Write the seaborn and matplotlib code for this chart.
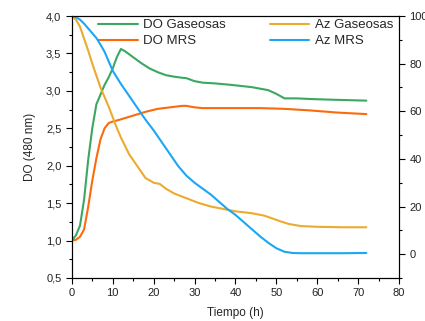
import pandas as pd
import matplotlib.pyplot as plt
import seaborn as sns
from matplotlib.ticker import MultipleLocator, FuncFormatter

# tiempo (h)
t_do_gas = [0, 1, 2, 3, 4, 5, 6, 7, 8, 9, 10, 11, 12, 13, 15, 17, 19, 21, 23, 25, 27, 28, 30, 32, 35, 39, 44, 48, 50, 52, 55, 59, 65, 72]
do_gas = [1.0, 1.07, 1.2, 1.55, 2.08, 2.5, 2.82, 2.95, 3.08, 3.18, 3.3, 3.45, 3.56, 3.53, 3.45, 3.37, 3.3, 3.25, 3.21, 3.19, 3.175, 3.17, 3.13, 3.11, 3.1, 3.08, 3.05, 3.01, 2.96, 2.9, 2.9, 2.89, 2.88, 2.87]

t_do_mrs = [0, 1, 2, 3, 4, 5, 6, 7, 8, 9, 10, 12, 15, 18, 21, 24, 27, 28, 30, 32, 35, 40, 46, 52, 58, 65, 72]
do_mrs = [1.0, 1.01, 1.05, 1.15, 1.45, 1.8, 2.1, 2.35, 2.5, 2.57, 2.59, 2.62, 2.67, 2.72, 2.76, 2.78, 2.8, 2.8, 2.78, 2.77, 2.77, 2.77, 2.77, 2.76, 2.74, 2.71, 2.69]

t_az_gas = [0, 1, 2, 3, 4, 5, 6, 7, 8, 9, 10, 11, 12, 14, 16, 18, 20, 21.5, 23, 25, 28, 31, 34, 37, 40, 44, 47, 49, 51, 53, 56, 60, 66, 72]
az_gas = [100, 98.5, 95.5, 90.5, 85.5, 80, 75, 70, 66, 62, 57.5, 53, 49, 42, 37, 32, 30, 29.5, 27.5, 25.5, 23.5, 21.5, 20, 19, 18, 17.2, 16.2, 15, 13.8, 12.7, 11.8, 11.5, 11.3, 11.3]

t_az_mrs = [0, 1, 2, 3, 4, 5, 6, 7, 8, 9, 10, 12, 14, 16, 18, 20, 22, 24, 26, 28, 30, 32, 34, 36, 38, 40, 42, 44, 46, 48, 50, 52, 54, 56, 60, 66, 72]
az_mrs = [100, 99.5, 98.5, 96.8, 94.8, 92.8, 90.8, 88, 85, 81, 77, 71.5, 66.5, 61.5, 56.5, 52, 47, 42, 37, 33, 30, 27.5, 25, 22, 19, 16.5, 13.5, 10.5, 7.5, 4.8, 2.5, 1.0, 0.5, 0.4, 0.4, 0.4, 0.5]

c_green = "#3aa860"
c_orange = "#fb6b0e"
c_yellow = "#ebab2e"
c_blue = "#1ba7f4"

sns.set_style("ticks")
plt.rcParams['font.family'] = ['Liberation Sans', 'DejaVu Sans']

fig = plt.figure(figsize=(4.25, 3.21), dpi=100)
ax = fig.add_axes([0.169, 0.134, 0.77, 0.816])
ax2 = ax.twinx()

df_gas = pd.DataFrame({'t': t_do_gas, 'v': do_gas})
df_mrs = pd.DataFrame({'t': t_do_mrs, 'v': do_mrs})
df_azg = pd.DataFrame({'t': t_az_gas, 'v': az_gas})
df_azm = pd.DataFrame({'t': t_az_mrs, 'v': az_mrs})

sns.lineplot(data=df_gas, x='t', y='v', ax=ax, color=c_green, lw=1.5, label='DO Gaseosas')
sns.lineplot(data=df_mrs, x='t', y='v', ax=ax, color=c_orange, lw=1.5, label='DO MRS')
sns.lineplot(data=df_azg, x='t', y='v', ax=ax2, color=c_yellow, lw=1.5, label='Az Gaseosas')
sns.lineplot(data=df_azm, x='t', y='v', ax=ax2, color=c_blue, lw=1.5, label='Az MRS')

ax.set_xlim(0, 80)
ax.set_ylim(0.5, 4.0)
ax2.set_ylim(-10, 100)

ax.xaxis.set_major_locator(MultipleLocator(10))
ax.xaxis.set_minor_locator(MultipleLocator(5))
ax.yaxis.set_major_locator(MultipleLocator(0.5))
ax.yaxis.set_minor_locator(MultipleLocator(0.25))
ax.yaxis.set_major_formatter(FuncFormatter(lambda v, p: f"{v:.1f}".replace('.', ',')))
ax2.yaxis.set_major_locator(MultipleLocator(20))
ax2.yaxis.set_minor_locator(MultipleLocator(10))

for a in (ax, ax2):
    a.tick_params(which='major', length=4, width=0.8, labelsize=8, color='black', labelcolor='#222222')
    a.tick_params(which='minor', length=2.5, width=0.8, color='black')
    for s in a.spines.values():
        s.set_visible(True)
        s.set_linewidth(0.8)
        s.set_color('black')

ax.set_xlabel('Tiempo (h)', fontsize=8.5, labelpad=6.5)
ax.set_ylabel('DO (480 nm)', fontsize=8.5, labelpad=7)
ax2.set_ylabel('')

ax.legend(loc='upper left', bbox_to_anchor=(0.064, 1.009), frameon=False, fontsize=9.5,
          handlelength=3, handletextpad=0.4, labelspacing=0.3, borderaxespad=0)
ax2.legend(loc='upper left', bbox_to_anchor=(0.589, 1.009), frameon=False, fontsize=9.5,
           handlelength=3, handletextpad=0.4, labelspacing=0.3, borderaxespad=0)

fig.savefig('out.png', dpi=100)
